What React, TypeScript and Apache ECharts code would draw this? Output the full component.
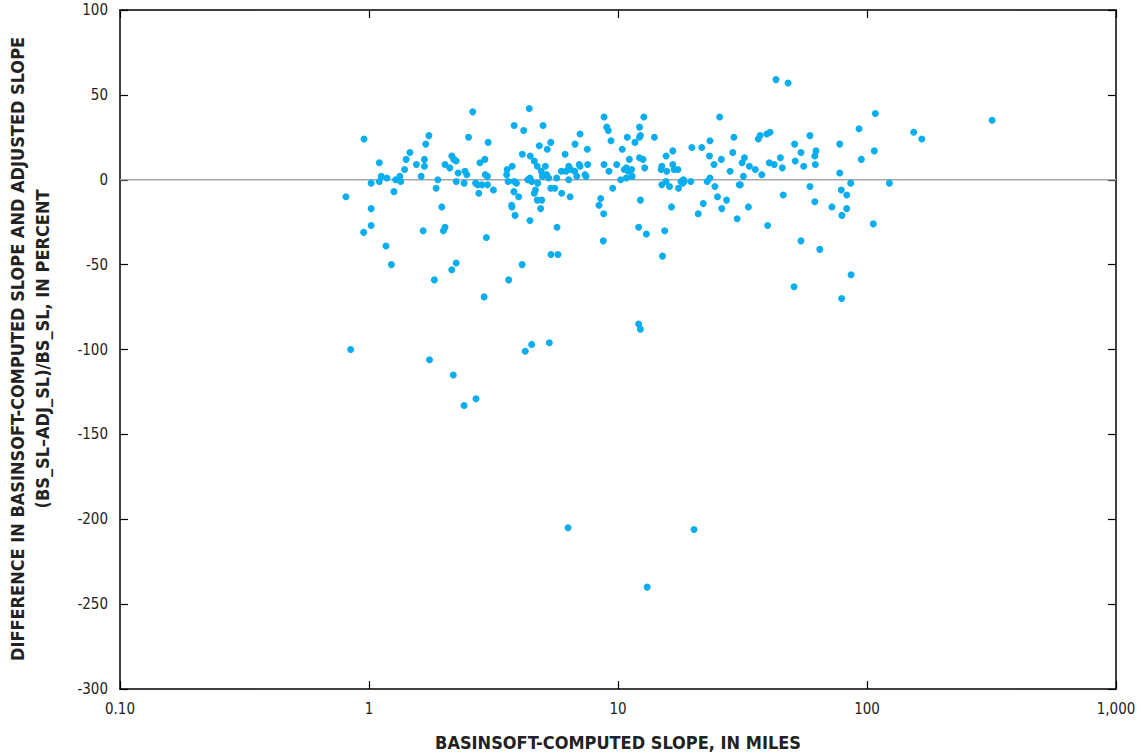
import React, { useEffect, useRef } from "react";
import * as echarts from "echarts";

// BASINSOFT-computed slope, in miles (x) and percent difference (y)
const slopeMiles: number[] = [
  0.955, 0.808, 1.02, 1.10, 1.02, 1.12, 1.10, 1.18, 1.26, 1.28, 1.33, 1.34, 1.39, 1.41, 1.46, 1.55, 1.62, 1.67, 1.67, 1.69,
  1.74, 1.86, 1.89, 1.96, 2.02, 2.11, 2.15, 2.19, 2.24, 2.28, 2.24, 2.41, 2.43, 2.47, 2.51, 2.61, 2.68, 2.73, 2.76, 2.79,
  2.84, 2.92, 2.93, 3.01, 2.99, 2.99,
  4.40, 3.83, 4.18, 5.00, 3.16, 3.59, 3.76, 3.57, 3.62, 3.83, 3.91, 3.82, 3.99, 3.74, 3.75, 3.86, 4.13, 4.44, 4.61, 4.83,
  5.20, 5.37, 4.74, 4.92, 5.11, 4.34, 4.43, 4.50, 4.76, 4.97, 5.17, 5.27, 4.66, 4.61, 4.74, 4.94, 4.89, 4.43, 5.37, 5.57,
  5.67, 5.92, 5.94, 6.13, 6.18, 6.34, 6.34, 6.46, 6.42, 6.72, 7.04, 6.70, 6.83, 6.99, 7.04, 7.37, 7.44, 7.53, 7.55, 8.79,
  9.01, 9.14, 9.37, 8.79, 9.20, 9.88, 9.52, 8.52, 8.39, 8.76, 10.25, 10.4, 10.9, 11.1, 10.6, 10.8, 11.0, 10.8, 11.35, 11.4,
  11.7, 12.2, 12.3, 12.2, 12.7, 12.2, 12.6, 12.8, 12.3,
  14.0, 14.9, 15.0, 15.6, 15.7, 16.6, 16.6, 16.8, 17.4, 15.0, 15.6, 16.1, 16.4, 17.5, 17.9, 18.3, 18.4, 18.2, 19.6, 19.8,
  21.7, 23.4, 25.6, 23.3, 24.3, 26.0, 22.8, 23.4, 24.5, 25.1, 27.3, 26.1, 22.0, 21.0, 28.2, 28.9, 29.2, 31.5, 32.2, 31.9,
  30.7, 31.0, 30.1, 33.4, 33.7, 35.6, 37.8, 36.6, 37.2, 39.6, 40.8, 40.5, 42.4, 44.9, 45.7, 46.1, 51.2, 54.3, 51.5, 55.7,
  59.0, 59.0,
  61.7, 62.4, 62.0, 61.7, 72.3, 79.3, 82.9, 78.8, 82.9, 86.0, 77.7, 77.7, 92.9, 94.9, 107, 108, 123, 154, 166, 318,
  1.02, 0.952, 1.17, 1.23, 1.65, 1.99, 2.02, 1.83, 2.15, 2.24, 2.96, 2.90, 5.69, 4.12, 3.64, 5.38, 5.74, 8.73, 12.1, 13.0,
  12.1, 12.3, 0.844, 1.75, 2.18, 4.24, 4.50, 5.30,
  15.4, 15.1, 39.9, 106, 54.3, 64.6, 86.3, 50.9, 79.1,
  2.41, 2.69, 6.30, 20.2, 13.1, 43.1, 48.2,
];

const diffPercent: number[] = [
  24, -10, -17, 10, -2, 2, -1, 1, -7, 0, 2, -1, 6, 12, 16, 9, 2, 12, 8, 21,
  26, -5, 0, -16, 9, 7, 14, 12, 11, 4, -1, -2, 5, 3, 25, 40, -2, -3, -8, 10,
  -3, 12, 3, 22, -3, 2,
  42, 32, 29, 32, -6, 6, 8, 3, -1, -1, -2, -7, -10, -15, -16, -21, 15, 14, 11, 20,
  18, 22, 8, 5, 8, 0, 1, -1, -2, 2, 3, 1, -6, -8, -12, -12, -17, -24, -5, -5,
  1, 5, -8, 15, 5, 8, 0, 6, -10, 21, 27, 5, 2, 9, 8, 3, 2, 18, 9, 37,
  31, 29, 23, 9, 5, 9, -5, -11, -15, -20, 0, 18, 25, 12, 6, 7, 5, 1, 6, 2,
  22, 25, 26, 31, 37, 13, 12, 7, -12,
  25, 6, 8, 14, 5, 17, 9, 6, 6, -3, -1, -4, -16, -5, -1, 0, -1, -2, -1, 19,
  19, 23, 37, 14, 9, 12, -1, 1, -4, -10, -12, -17, -14, -20, 5, 16, 25, 10, 13, 2,
  -3, -3, -23, -16, 8, 6, 3, 24, 26, 27, 28, 10, 9, 13, 7, -9, 21, 16, 11, 8,
  26, -4,
  14, 17, 9, -13, -16, -21, -17, -6, -9, -2, 4, 21, 30, 12, 17, 39, -2, 28, 24, 35,
  -27, -31, -39, -50, -30, -30, -28, -59, -53, -49, -34, -69, -28, -50, -59, -44, -44, -36, -28, -32,
  -85, -88, -100, -106, -115, -101, -97, -96,
  -30, -45, -27, -26, -36, -41, -56, -63, -70,
  -133, -129, -205, -206, -240, 59, 57,
];

const yTicks = { min: -300, max: 100, step: 50 };
const xRange = { min: 0.1, max: 1000 };

const FONT = "'Liberation Sans Narrow', 'DejaVu Sans Condensed', 'Liberation Sans', sans-serif";

export default function App() {
  const ref = useRef<HTMLDivElement>(null);
  useEffect(() => {
    document.body.style.margin = "0";
    if (!ref.current) return;
    const chart = echarts.init(ref.current, undefined, { renderer: "svg" });
    const points = slopeMiles.map((x, i) => [x, diffPercent[i]]);
    const axisLine = { show: true, onZero: false, lineStyle: { color: "#000", width: 1.5 } };
    const axisTick = { show: true, inside: true, length: 8, lineStyle: { color: "#000", width: 1.2 } };
    const fmtX = (v: number) => {
      if (Math.abs(v - 0.1) < 1e-9) return "0.10";
      if (v >= 1000) return v.toLocaleString("en-US");
      return String(Math.round(v));
    };
    chart.setOption({
      animation: false,
      backgroundColor: "#fff",
      grid: { left: 120, right: 27, top: 10, bottom: 65, containLabel: false },
      xAxis: [
        {
          type: "log",
          logBase: 10,
          min: xRange.min,
          max: xRange.max,
          position: "bottom",
          axisLine,
          axisTick,
          minorTick: { show: false },
          splitLine: { show: false },
          axisLabel: { show: true, formatter: fmtX, color: "#222", fontFamily: FONT, fontSize: 15, margin: 12 },
        },
        {
          type: "log",
          logBase: 10,
          min: xRange.min,
          max: xRange.max,
          position: "top",
          axisLine,
          axisTick,
          splitLine: { show: false },
          axisLabel: { show: false },
        },
      ],
      yAxis: [
        {
          type: "value",
          min: yTicks.min,
          max: yTicks.max,
          interval: yTicks.step,
          position: "left",
          axisLine,
          axisTick,
          splitLine: { show: false },
          axisLabel: { show: true, color: "#222", fontFamily: FONT, fontSize: 15, margin: 12 },
        },
        {
          type: "value",
          min: yTicks.min,
          max: yTicks.max,
          interval: yTicks.step,
          position: "right",
          axisLine,
          axisTick,
          splitLine: { show: false },
          axisLabel: { show: false },
        },
      ],
      series: [
        {
          type: "line",
          data: [[xRange.min, 0], [xRange.max, 0]],
          symbol: "none",
          silent: true,
          z: 1,
          lineStyle: { color: "#a6a6a6", width: 1.5 },
        },
        {
          type: "scatter",
          data: points,
          symbol: "circle",
          symbolSize: 7,
          z: 3,
          itemStyle: { color: "#0aaeef", opacity: 1 },
        },
      ],
      graphic: [
        {
          type: "text",
          x: 618,
          y: 742,
          style: {
            text: "BASINSOFT-COMPUTED SLOPE, IN MILES",
            fontFamily: FONT,
            fontWeight: "bold",
            fontSize: 18,
            fill: "#222",
            textAlign: "center",
            textVerticalAlign: "middle",
          },
        },
        {
          type: "text",
          x: 30,
          y: 349,
          rotation: Math.PI / 2,
          style: {
            text: "DIFFERENCE IN BASINSOFT-COMPUTED SLOPE AND ADJUSTED SLOPE\n(BS_SL\u2013ADJ_SL)/BS_SL, IN PERCENT",
            fontFamily: FONT,
            fontWeight: "bold",
            fontSize: 18,
            lineHeight: 25,
            fill: "#222",
            textAlign: "center",
            textVerticalAlign: "middle",
          },
        },
      ],
    });
    return () => chart.dispose();
  }, []);
  return <div ref={ref} style={{ position: "absolute", left: 0, top: 0, width: 1143, height: 754 }} />;
}
